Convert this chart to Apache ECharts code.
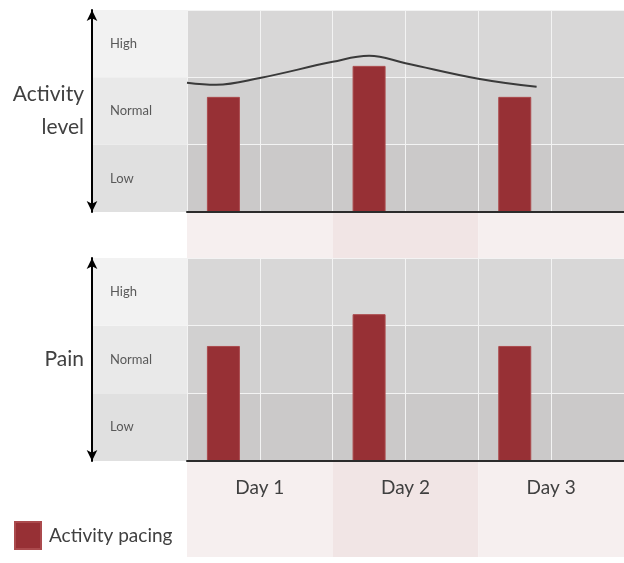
<!DOCTYPE html>
<html>
<head>
<meta charset="utf-8">
<script src="https://cdn.jsdelivr.net/npm/echarts@6/dist/echarts.min.js"></script>
<style>
  html, body { margin: 0; padding: 0; background: #fff; }
  #chart { width: 624px; height: 563px; }
</style>
</head>
<body>
<div id="chart"></div>
<script>
const days = ['Day 1', 'Day 2', 'Day 3'];
const levels = ['Low', 'Normal', 'High'];
const activityLevel = [1.71, 2.17, 1.71];
const pain = [1.70, 2.17, 1.70];
// trend line over the activity panel, x in half-day slots (0..6)
const trendX = [0, 0.4, 1, 2, 2.5, 3, 4, 4.8];
const trendY = [1.92, 1.89, 1.99, 2.23, 2.32, 2.21, 1.98, 1.86];

const FONT = 'Lato';
const bandColors = ['#cbc9c9', '#d1d0d0', '#d8d7d7'];
const labelColColors = ['#e0e0e0', '#e9e9e9', '#f2f2f2'];
const barColor = '#973035';

const top1 = 10, h1 = 202, top2 = 258, h2 = 203;

// slot position of a day's bar (left half of the day column)
function slot(i) {
  return i * 2 + 0.5;
}

function labelColumn(top, h) {
  let rects = [];
  for (let i = 0; i < 3; i++) {
    rects.push({
      type: 'rect',
      shape: { x: 92, y: top + h - (i + 1) * h / 3, width: 95, height: h / 3 },
      style: { fill: labelColColors[i] },
      z: -1
    });
  }
  return rects;
}

function valueX(grid) {
  return {
    type: 'value', gridIndex: grid, position: 'bottom', min: 0, max: 6, interval: 1, z: 3,
    axisLine: { show: true, onZero: false, lineStyle: { color: '#2b2b2b', width: 2 } },
    axisTick: { show: false },
    axisLabel: { show: false },
    splitLine: { show: true, lineStyle: { color: '#f3f3f3', width: 1 } }
  };
}

function valueY(grid, name, gap) {
  return {
    type: 'value', gridIndex: grid, min: 0, max: 3, offset: 95, position: 'left', z: 5,
    axisLine: {
      show: true, onZero: false, symbol: ['arrow', 'arrow'], symbolSize: [8, 11],
      lineStyle: { color: '#000', width: 2 }
    },
    axisTick: { show: false },
    axisLabel: { show: false },
    splitLine: { show: false },
    name: name,
    nameLocation: 'middle',
    nameRotate: 0,
    nameGap: gap,
    nameTextStyle: {
      fontFamily: FONT, fontSize: 21, color: '#404040', align: 'right', lineHeight: 33,
      padding: [8, 0, 0, 0]
    }
  };
}

function levelY(grid) {
  return {
    type: 'category', gridIndex: grid, data: levels, position: 'left', z: 2,
    axisLine: { show: false, onZero: false },
    axisTick: { show: false },
    axisLabel: { align: 'left', margin: 77, fontFamily: FONT, fontSize: 13, color: '#595959' },
    splitLine: { show: true, lineStyle: { color: '#f3f3f3', width: 1 } },
    splitArea: { show: true, areaStyle: { color: bandColors } }
  };
}

const chart = echarts.init(document.getElementById('chart'));
chart.setOption({
  backgroundColor: '#fff',
  animation: false,
  textStyle: { fontFamily: FONT },
  legend: {
    data: ['Activity pacing'],
    left: 14, top: 521, padding: 0,
    icon: 'rect',
    itemWidth: 26, itemHeight: 27, itemGap: 8,
    textStyle: { fontFamily: FONT, fontSize: 19, color: '#404040', padding: [0, 0, 0, 3] }
  },
  grid: [
    { left: 187, top: top1, width: 437, height: h1 },
    { left: 187, top: top2, width: 437, height: h2 },
    { left: 187, top: 213, width: 437, height: 344 }
  ],
  xAxis: [
    valueX(0),
    valueX(1),
    {
      type: 'category', gridIndex: 1, data: days, position: 'bottom', z: 3,
      axisLine: { show: false, onZero: false }, axisTick: { show: false },
      axisLabel: { margin: 17, fontFamily: FONT, fontSize: 19, color: '#404040' },
      splitLine: { show: false }
    },
    {
      type: 'category', gridIndex: 2, data: days, position: 'bottom', z: 0,
      axisLine: { show: false }, axisTick: { show: false }, axisLabel: { show: false },
      splitLine: { show: false },
      splitArea: { show: true, areaStyle: { color: ['#f6efef', '#f1e5e5'] } }
    }
  ],
  yAxis: [
    valueY(0, 'Activity\nlevel', 8),
    levelY(0),
    valueY(1, 'Pain', 8),
    levelY(1),
    {
      type: 'value', gridIndex: 2, z: 0,
      axisLine: { show: false }, axisTick: { show: false }, axisLabel: { show: false },
      splitLine: { show: false }
    }
  ],
  graphic: labelColumn(top1, h1).concat(labelColumn(top2, h2)),
  series: [
    {
      name: 'Activity pacing', type: 'bar', xAxisIndex: 0, yAxisIndex: 0,
      barWidth: 33,
      itemStyle: { color: barColor, borderColor: '#ab4a4d', borderWidth: 1 },
      data: activityLevel.map((v, i) => [slot(i), v])
    },
    {
      name: 'trend', type: 'line', xAxisIndex: 0, yAxisIndex: 0,
      smooth: 0.4, showSymbol: false, z: 4,
      lineStyle: { color: '#3a3a3a', width: 2 },
      data: trendX.map((x, i) => [x, trendY[i]])
    },
    {
      name: 'Activity pacing', type: 'bar', xAxisIndex: 1, yAxisIndex: 2,
      barWidth: 33,
      itemStyle: { color: barColor, borderColor: '#ab4a4d', borderWidth: 1 },
      data: pain.map((v, i) => [slot(i), v])
    }
  ]
});
</script>
</body>
</html>
